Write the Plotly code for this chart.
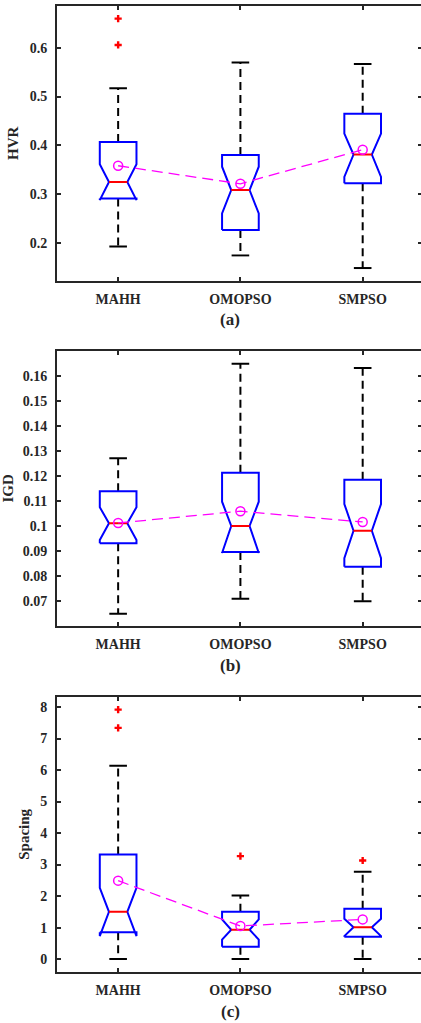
import plotly.graph_objects as go

# ---------------- data ----------------
categories = ["MAHH", "OMOPSO", "SMPSO"]

# (a) HVR
hvr_q1 = [0.291, 0.226, 0.322]
hvr_med = [0.3245, 0.308, 0.381]
hvr_q3 = [0.407, 0.380, 0.4646]
hvr_nlo = [0.2875, 0.260, 0.335]
hvr_nhi = [0.361, 0.356, 0.424]
hvr_wlo = [0.192, 0.174, 0.148]
hvr_whi = [0.517, 0.570, 0.567]
hvr_mean = [0.358, 0.321, 0.391]
hvr_out = [[0.660, 0.606], [], []]
hvr_ticks = [0.2, 0.3, 0.4, 0.5, 0.6]
hvr_ticktext = ["0.2", "0.3", "0.4", "0.5", "0.6"]

# (b) IGD
igd_q1 = [0.0931, 0.0896, 0.0837]
igd_med = [0.1011, 0.1000, 0.0981]
igd_q3 = [0.1139, 0.1213, 0.1185]
igd_nlo = [0.0944, 0.0892, 0.0871]
igd_nhi = [0.1075, 0.1097, 0.1088]
igd_wlo = [0.0649, 0.0709, 0.0699]
igd_whi = [0.1271, 0.1649, 0.1632]
igd_mean = [0.1012, 0.1059, 0.1016]
igd_out = [[], [], []]
igd_ticks = [0.07, 0.08, 0.09, 0.10, 0.11, 0.12, 0.13, 0.14, 0.15, 0.16]
igd_ticktext = ["0.07", "0.08", "0.09", "0.1", "0.11", "0.12", "0.13", "0.14", "0.15", "0.16"]

# (c) Spacing
sp_q1 = [0.856, 0.39, 0.71]
sp_med = [1.50, 0.93, 1.01]
sp_q3 = [3.32, 1.50, 1.60]
sp_nlo = [0.73, 0.62, 0.73]
sp_nhi = [2.26, 1.26, 1.28]
sp_wlo = [0.0, 0.0, 0.0]
sp_whi = [6.14, 2.02, 2.77]
sp_mean = [2.49, 1.05, 1.26]
sp_out = [[7.92, 7.34], [3.27], [3.13]]
sp_ticks = [0, 1, 2, 3, 4, 5, 6, 7, 8]
sp_ticktext = ["0", "1", "2", "3", "4", "5", "6", "7", "8"]

panels = [
    dict(name="HVR", label="(a)", q1=hvr_q1, med=hvr_med, q3=hvr_q3, nlo=hvr_nlo, nhi=hvr_nhi,
         wlo=hvr_wlo, whi=hvr_whi, mean=hvr_mean, out=hvr_out, ticks=hvr_ticks, ticktext=hvr_ticktext,
         yrange=[0.1214, 0.687], top=5.5, bottom=281, lab_y=320),
    dict(name="IGD", label="(b)", q1=igd_q1, med=igd_med, q3=igd_q3, nlo=igd_nlo, nhi=igd_nhi,
         wlo=igd_wlo, whi=igd_whi, mean=igd_mean, out=igd_out, ticks=igd_ticks, ticktext=igd_ticktext,
         yrange=[0.0601, 0.170], top=351, bottom=625.7, lab_y=665),
    dict(name="Spacing", label="(c)", q1=sp_q1, med=sp_med, q3=sp_q3, nlo=sp_nlo, nhi=sp_nhi,
         wlo=sp_wlo, whi=sp_whi, mean=sp_mean, out=sp_out, ticks=sp_ticks, ticktext=sp_ticktext,
         yrange=[-0.40, 8.32], top=697, bottom=971.7, lab_y=1011),
]

# ---------------- figure ----------------
W, H = 421, 1023
HALF = 0.15      # box half width
WAIST = 0.075    # notch waist half width
CAP = 0.072      # whisker cap half width
AX = "#262626"
FONT = "Liberation Serif"

fig = go.Figure()
layout = dict(width=W, height=H, margin=dict(l=0, r=0, t=0, b=0),
              paper_bgcolor="white", plot_bgcolor="white", showlegend=False)

xdom = [57 / W, 1.0]
xpos = [1, 2, 3]

for i, p in enumerate(panels):
    k = i + 1
    xa = "x" if k == 1 else f"x{k}"
    ya = "y" if k == 1 else f"y{k}"
    ya_r = f"y{k + 3}"

    # boxes (notched outline)
    bx, by = [], []
    for j, x in enumerate(xpos):
        L, R = x - HALF, x + HALF
        bx += [L, L, x - WAIST, L, L, R, R, x + WAIST, R, R, L, None]
        by += [p["q1"][j], p["nlo"][j], p["med"][j], p["nhi"][j], p["q3"][j],
               p["q3"][j], p["nhi"][j], p["med"][j], p["nlo"][j], p["q1"][j], p["q1"][j], None]
    # whiskers (dashed)
    wx, wy = [], []
    for j, x in enumerate(xpos):
        wx += [x, x, None, x, x, None]
        wy += [p["q3"][j], p["whi"][j], None, p["q1"][j], p["wlo"][j], None]
    fig.add_trace(go.Scatter(x=wx, y=wy, mode="lines", xaxis=xa, yaxis=ya,
                             line=dict(color="black", width=2, dash="8px,5px"), hoverinfo="skip"))
    # caps
    cx, cy = [], []
    for j, x in enumerate(xpos):
        cx += [x - CAP, x + CAP, None, x - CAP, x + CAP, None]
        cy += [p["whi"][j], p["whi"][j], None, p["wlo"][j], p["wlo"][j], None]
    fig.add_trace(go.Scatter(x=cx, y=cy, mode="lines", xaxis=xa, yaxis=ya,
                             line=dict(color="black", width=2), hoverinfo="skip"))
    fig.add_trace(go.Scatter(x=bx, y=by, mode="lines", xaxis=xa, yaxis=ya,
                             line=dict(color="#0000ff", width=2), hoverinfo="skip"))
    # medians
    mx, my = [], []
    for j, x in enumerate(xpos):
        mx += [x - WAIST, x + WAIST, None]
        my += [p["med"][j], p["med"][j], None]
    fig.add_trace(go.Scatter(x=mx, y=my, mode="lines", xaxis=xa, yaxis=ya,
                             line=dict(color="#ff0000", width=2), hoverinfo="skip"))
    # outliers
    ox, oy = [], []
    for j, x in enumerate(xpos):
        for v in p["out"][j]:
            ox.append(x)
            oy.append(v)
    if ox:
        fig.add_trace(go.Scatter(x=ox, y=oy, mode="markers", xaxis=xa, yaxis=ya,
                                 marker=dict(symbol="cross", size=6, color="#ff0000",
                                             line=dict(width=0)), hoverinfo="skip"))
    # means
    fig.add_trace(go.Scatter(x=xpos, y=p["mean"], mode="lines+markers", xaxis=xa, yaxis=ya,
                             line=dict(color="#ff00ff", width=1.3, dash="11px,6px"),
                             marker=dict(symbol="circle-open", size=9, color="#ff00ff",
                                         line=dict(width=1.5, color="#ff00ff")),
                             hoverinfo="skip"))
    # invisible trace for right-side tick axis
    fig.add_trace(go.Scatter(x=[xpos[0]], y=[p["ticks"][0]], mode="markers", xaxis=xa, yaxis=ya_r,
                             marker=dict(opacity=0), hoverinfo="skip"))

    ydom = [1 - p["bottom"] / H, 1 - p["top"] / H]
    xkey = "xaxis" if k == 1 else f"xaxis{k}"
    ykey = "yaxis" if k == 1 else f"yaxis{k}"
    layout[xkey] = dict(domain=xdom, anchor=ya, range=[0.5, 3.477],
                        tickvals=xpos, ticktext=categories,
                        ticks="inside", ticklen=4, tickwidth=1.5, tickcolor=AX,
                        showline=True, linecolor=AX, linewidth=2, mirror="ticks",
                        showgrid=False, zeroline=False, ticklabelstandoff=4,
                        tickfont=dict(family=FONT, size=14, color=AX, weight="bold"))
    layout[ykey] = dict(domain=ydom, anchor=xa, range=p["yrange"],
                        tickvals=p["ticks"], ticktext=p["ticktext"],
                        ticks="inside", ticklen=4, tickwidth=1.5, tickcolor=AX,
                        showline=True, linecolor=AX, linewidth=2,
                        showgrid=False, zeroline=False, ticklabelstandoff=5,
                        tickfont=dict(family=FONT, size=14, color=AX, weight="bold"),
                        title=dict(text=p["name"], standoff=7,
                                   font=dict(family=FONT, size=15, color=AX, weight="bold")))
    layout[f"yaxis{k + 3}"] = dict(overlaying=ya, side="right", matches=ya, anchor=xa,
                                   tickvals=p["ticks"], showticklabels=False,
                                   ticks="inside", ticklen=3, tickwidth=1.5, tickcolor=AX,
                                   showline=False, showgrid=False, zeroline=False)

annotations = []
for p in panels:
    annotations.append(dict(text=p["label"], x=230 / W, y=1 - p["lab_y"] / H,
                            xref="paper", yref="paper", xanchor="center", yanchor="middle",
                            showarrow=False,
                            font=dict(family=FONT, size=17, color=AX, weight="bold")))
layout["annotations"] = annotations

fig.update_layout(**layout)
fig.write_html("out.html")
